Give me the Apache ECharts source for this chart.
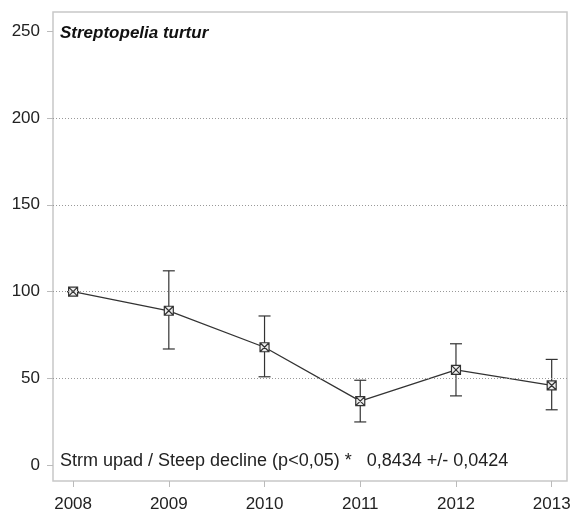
<!DOCTYPE html>
<html><head><meta charset="utf-8">
<script src="https://cdn.jsdelivr.net/npm/echarts@6/dist/echarts.min.js"></script>
<style>html,body{margin:0;padding:0;background:#fff}#c{width:574px;height:513px}</style>
</head><body><div id="c"></div>
<script>
const years = [2008, 2009, 2010, 2011, 2012, 2013];
const index = [100, 89, 68, 37, 55, 46];
const upper = [100, 112, 86, 49, 70, 61];
const lower = [100, 67, 51, 25, 40, 32];
const gridValues = [50, 100, 150, 200];
const titleText = 'Streptopelia turtur';
const trendText = 'Strm upad / Steep decline (p<0,05) *   0,8434 +/- 0,0424';

const chart = echarts.init(document.getElementById('c'), null, {renderer: 'canvas'});
const font = 'Liberation Sans, Arial, sans-serif';
chart.setOption({
  animation: false,
  backgroundColor: '#fff',
  title: [
    {text: titleText, left: 55, top: 20, textStyle: {fontFamily: font, fontSize: 17, fontWeight: 'bold', fontStyle: 'italic', color: '#111'}},
    {text: trendText, left: 55, top: 447, textStyle: {fontFamily: font, fontSize: 18, fontWeight: 'normal', color: '#222'}}
  ],
  grid: {left: 53, right: 7, top: 12, bottom: 31, show: true, borderColor: '#c8c8c8', borderWidth: 1.5},
  xAxis: {
    type: 'value', min: 2007.79, max: 2013.16, splitNumber: 5,
    axisLine: {show: false, onZero: false}, splitLine: {show: false},
    axisTick: {show: true, length: 6, lineStyle: {color: '#bbb'}},
    axisLabel: {showMinLabel: false, showMaxLabel: false, margin: 15, fontFamily: font, fontSize: 17, color: '#222', formatter: v => String(Math.round(v))}
  },
  yAxis: {
    type: 'value', min: -9, max: 261, splitNumber: 5,
    axisLine: {show: false, onZero: false}, splitLine: {show: false},
    axisTick: {show: true, length: 6, lineStyle: {color: '#bbb'}},
    axisLabel: {showMinLabel: false, showMaxLabel: false, margin: 13, fontFamily: font, fontSize: 17, color: '#222'}
  },
  series: [
    {
      type: 'custom',
      data: years.map((y, i) => [y, lower[i], upper[i]]),
      renderItem: function (params, api) {
        const x = api.value(0);
        const lo = api.coord([x, api.value(1)]);
        const hi = api.coord([x, api.value(2)]);
        const w = 6;
        const st = {stroke: '#333', lineWidth: 1.2};
        return {type: 'group', children: [
          {type: 'line', shape: {x1: lo[0], y1: lo[1], x2: hi[0], y2: hi[1]}, style: st},
          {type: 'line', shape: {x1: lo[0] - w, y1: lo[1], x2: lo[0] + w, y2: lo[1]}, style: st},
          {type: 'line', shape: {x1: hi[0] - w, y1: hi[1], x2: hi[0] + w, y2: hi[1]}, style: st}
        ]};
      },
      z: 3
    },
    {
      type: 'line',
      data: years.map((y, i) => [y, index[i]]),
      symbol: 'path://M0,0L10,0L10,10L0,10Z M0,0L10,10 M10,0L0,10',
      symbolSize: 9,
      itemStyle: {color: '#eee', borderColor: '#333', borderWidth: 1.2},
      lineStyle: {color: '#333', width: 1.3},
      z: 4,
      markLine: {
        silent: true, symbol: 'none', label: {show: false},
        lineStyle: {color: '#999', type: [1, 2], width: 1},
        data: gridValues.map(v => ({yAxis: v}))
      }
    }
  ]
});
</script></body></html>
